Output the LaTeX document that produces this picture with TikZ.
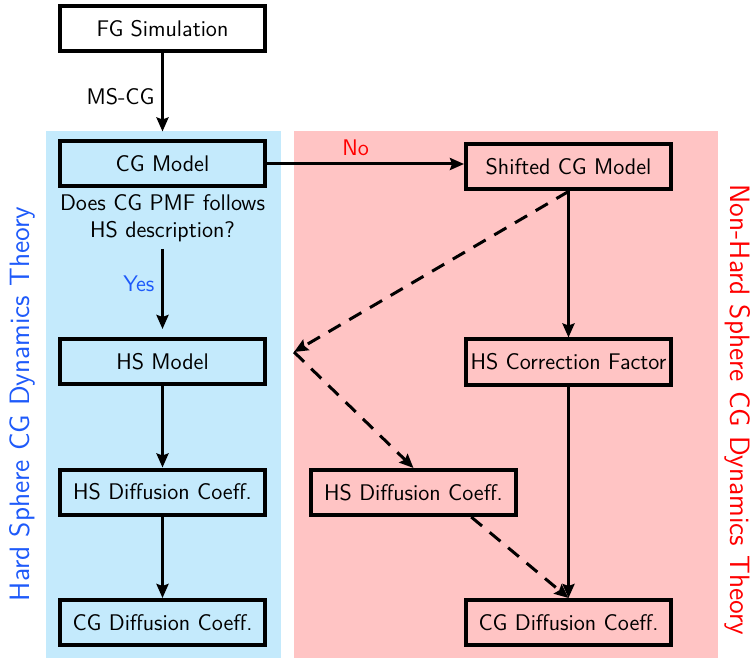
\documentclass[tikz,border=0pt]{standalone}
\usetikzlibrary{arrows.meta}
\definecolor{hsblue}{RGB}{196,234,252}
\definecolor{nhsred}{RGB}{255,196,196}
\definecolor{yesblue}{RGB}{30,90,250}
\newcommand{\boxfont}{\sffamily\fontsize{11.3}{13.6}\selectfont}
\tikzset{
  box/.style={draw, line width=2pt, minimum width=102.5pt, minimum height=22.5pt, inner sep=0pt, font=\boxfont},
  flow/.style={line width=1.5pt, -{Stealth[length=7pt,width=6pt,inset=1pt]}},
  dflow/.style={flow, dash pattern=on 7pt off 5pt},
}
\begin{document}
\begin{tikzpicture}[x=0.5pt,y=-0.5pt]
    \useasboundingbox (0,0) rectangle (751,658);
    \fill[hsblue] (46,131) rectangle (281,658);
    \fill[nhsred] (294,131) rectangle (718,658);

    \node[box, fill=white] (fg) at (162.5,28.5) {FG Simulation};
    \node[box] (cgmodel) at (162.5,164) {CG Model};
    \node[font=\boxfont, align=center] (question) at (162.5,218) {Does CG PMF follows\\HS description?};
    \node[box] (hsmodel) at (162.5,361.5) {HS Model};
    \node[box] (hsdiffL) at (162.5,492) {HS Diffusion Coeff.};
    \node[box] (cgdiffL) at (162.5,622.5) {CG Diffusion Coeff.};

    \node[box] (shifted) at (568.5,167) {Shifted CG Model};
    \node[box] (hscorr) at (568.5,362) {HS Correction Factor};
    \node[box] (hsdiffR) at (413.5,492.5) {HS Diffusion Coeff.};
    \node[box] (cgdiffR) at (568.5,622.5) {CG Diffusion Coeff.};
    \coordinate (bend) at (294,352);

    \draw[flow, shorten >=4pt] (fg) -- node[left, font=\boxfont] (mscg) {MS-CG} (cgmodel);
    \draw[flow, shorten >=4pt] (question) -- node[left, pos=0.4, font=\boxfont, text=yesblue] (yes) {Yes} (hsmodel);
    \draw[flow] (hsmodel) -- (hsdiffL);
    \draw[flow] (hsdiffL) -- (cgdiffL);
    \draw[flow] (cgmodel.east) -- node[above, pos=0.45, font=\boxfont, text=red] (no) {No} (shifted.west |- cgmodel.east);
    \draw[flow] (shifted) -- (hscorr);
    \draw[flow] (hscorr) -- (cgdiffR);
    \draw[dflow] (shifted.south) -- (bend);
    \draw[dflow] (bend) -- (hsdiffR.north);
    \draw[dflow] (hsdiffR.-23) -- (cgdiffR.north);

    \node[font=\sffamily\fontsize{14}{17}\selectfont, text=yesblue, rotate=90] (hslabel) at (22,404) {Hard Sphere CG Dynamics Theory};
    \node[font=\sffamily\fontsize{14}{17}\selectfont, text=red, rotate=-90] (nhslabel) at (738,410) {Non-Hard Sphere CG Dynamics Theory};
\end{tikzpicture}
\end{document}
